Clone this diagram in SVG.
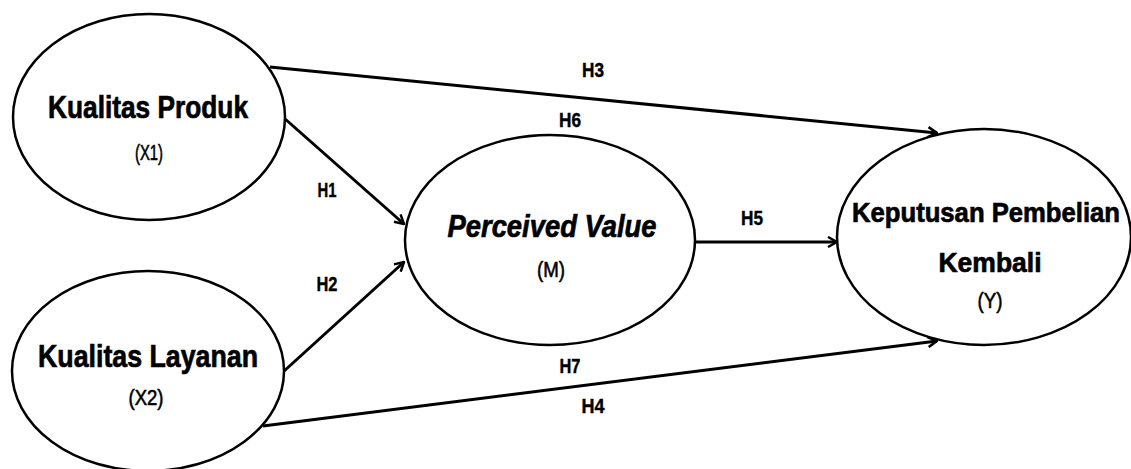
<svg xmlns="http://www.w3.org/2000/svg" width="1131" height="469" viewBox="0 0 1131 469">
<style>
.node{fill:#fff;stroke:#000;stroke-width:2.5}
.conn{stroke:#000;stroke-width:3;fill:none}
.title{font-family:"Liberation Sans",Arial,sans-serif;font-weight:bold;fill:#000;stroke:#000;stroke-width:0.7;text-anchor:middle}
.sub{font-family:"Liberation Sans",Arial,sans-serif;font-size:22px;fill:#000;stroke:#000;stroke-width:0.6;text-anchor:middle}
.lbl{font-family:"Liberation Sans",Arial,sans-serif;font-weight:bold;font-size:20px;fill:#000;stroke:#000;stroke-width:0.4;text-anchor:middle}
</style>
<defs>
<marker id="arr" viewBox="0 0 12 12" refX="11" refY="6" markerWidth="12" markerHeight="12" markerUnits="userSpaceOnUse" orient="auto">
<path d="M2,1 L11,6 L2,11" fill="none" stroke="#000" stroke-width="2.5"/>
</marker>
</defs>
<rect width="1131" height="469" fill="#fff"/>
<g id="connectors">
<line class="conn" x1="270" y1="67" x2="937" y2="133" marker-end="url(#arr)"/>
<line class="conn" x1="284" y1="118" x2="404" y2="224" marker-end="url(#arr)"/>
<line class="conn" x1="283" y1="372" x2="404" y2="262" marker-end="url(#arr)"/>
<line class="conn" x1="693" y1="242" x2="837" y2="242" marker-end="url(#arr)"/>
<line class="conn" x1="263" y1="426" x2="937" y2="341" marker-end="url(#arr)"/>
<text class="lbl" x="593" y="77" textLength="22" lengthAdjust="spacingAndGlyphs">H3</text>
<text class="lbl" x="570" y="127" textLength="22" lengthAdjust="spacingAndGlyphs">H6</text>
<text class="lbl" x="327" y="197" textLength="19" lengthAdjust="spacingAndGlyphs">H1</text>
<text class="lbl" x="327" y="291" textLength="21" lengthAdjust="spacingAndGlyphs">H2</text>
<text class="lbl" x="752" y="225" textLength="22" lengthAdjust="spacingAndGlyphs">H5</text>
<text class="lbl" x="570" y="373" textLength="21" lengthAdjust="spacingAndGlyphs">H7</text>
<text class="lbl" x="593" y="413" textLength="23" lengthAdjust="spacingAndGlyphs">H4</text>
</g>
<g id="kualitas-produk">
<ellipse class="node" cx="149" cy="117" rx="136" ry="103"/>
<text class="title" x="148" y="118" font-size="32" textLength="200" lengthAdjust="spacingAndGlyphs">Kualitas Produk</text>
<text class="sub" x="149" y="160" textLength="28" lengthAdjust="spacingAndGlyphs">(X1)</text>
</g>
<g id="kualitas-layanan">
<ellipse class="node" cx="148" cy="371" rx="136" ry="100"/>
<text class="title" x="148" y="367" font-size="32" textLength="220" lengthAdjust="spacingAndGlyphs">Kualitas Layanan</text>
<text class="sub" x="146" y="405" textLength="35" lengthAdjust="spacingAndGlyphs">(X2)</text>
</g>
<g id="perceived-value">
<ellipse class="node" cx="550" cy="240" rx="145" ry="105"/>
<text class="title" x="552" y="237" font-size="32" font-style="italic" textLength="209" lengthAdjust="spacingAndGlyphs">Perceived Value</text>
<text class="sub" x="551" y="277" textLength="28" lengthAdjust="spacingAndGlyphs">(M)</text>
</g>
<g id="keputusan-pembelian">
<ellipse class="node" cx="984" cy="237" rx="147" ry="108"/>
<text class="title" x="986" y="222" font-size="28" textLength="268" lengthAdjust="spacingAndGlyphs">Keputusan Pembelian</text>
<text class="title" x="990" y="272" font-size="28" textLength="103" lengthAdjust="spacingAndGlyphs">Kembali</text>
<text class="sub" x="990" y="308" textLength="25" lengthAdjust="spacingAndGlyphs">(Y)</text>
</g>
</svg>
